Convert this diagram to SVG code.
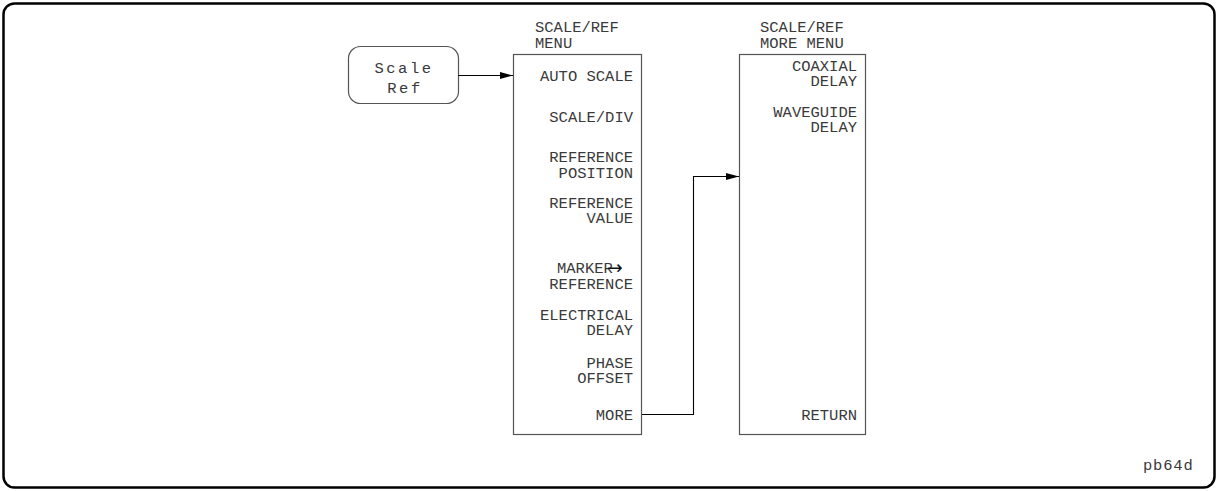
<svg xmlns="http://www.w3.org/2000/svg" width="1218" height="491" viewBox="0 0 1218 491">
<defs>
<marker id="ah" markerWidth="13" markerHeight="8" refX="13" refY="4" orient="auto" markerUnits="userSpaceOnUse">
<path d="M0,0.5 L13,4 L0,7.5 Z" fill="#000"/>
</marker>
<style>
.t{font-family:"Liberation Mono","DejaVu Sans Mono",monospace;font-size:15.5px;fill:#3a3a3a;}
.r{text-anchor:end;}
.box{fill:#fff;stroke:#555;stroke-width:1.2;}
.con{fill:none;stroke:#000;stroke-width:1.1;}
.arr{font-family:"DejaVu Sans",sans-serif;font-size:19px;fill:#111;}
</style>
</defs>
<rect x="0" y="0" width="1218" height="491" fill="#fff"/>
<rect x="3.5" y="3.5" width="1211" height="484" rx="11" ry="11" fill="none" stroke="#000" stroke-width="2.5"/>

<g id="scale-ref-key">
<rect class="box" x="348.5" y="46.5" width="110" height="57" rx="12" ry="12"/>
<text class="t" x="404" y="73" text-anchor="middle" style="letter-spacing:2.5px">Scale</text>
<text class="t" x="405" y="93" text-anchor="middle" style="letter-spacing:2.5px">Ref</text>
</g>

<g id="scale-ref-menu">
<text class="t" x="535" y="32">SCALE/REF</text>
<text class="t" x="535" y="48">MENU</text>
<rect class="box" x="513.5" y="54.5" width="128" height="380"/>
<text class="t r" x="633" y="81">AUTO SCALE</text>
<text class="t r" x="633" y="122">SCALE/DIV</text>
<text class="t r" x="633" y="162">REFERENCE</text>
<text class="t r" x="633" y="178">POSITION</text>
<text class="t r" x="633" y="208">REFERENCE</text>
<text class="t r" x="633" y="223">VALUE</text>
<text class="t" x="557" y="273">MARKER<tspan class="arr" dx="-6" dy="1">→</tspan></text>
<text class="t r" x="633" y="289">REFERENCE</text>
<text class="t r" x="633" y="320">ELECTRICAL</text>
<text class="t r" x="633" y="335">DELAY</text>
<text class="t r" x="633" y="368">PHASE</text>
<text class="t r" x="633" y="383">OFFSET</text>
<text class="t r" x="633" y="420">MORE</text>
</g>

<g id="scale-ref-more-menu">
<text class="t" x="760" y="32">SCALE/REF</text>
<text class="t" x="760" y="48">MORE MENU</text>
<rect class="box" x="739.5" y="54.5" width="126" height="380"/>
<text class="t r" x="857" y="71">COAXIAL</text>
<text class="t r" x="857" y="86">DELAY</text>
<text class="t r" x="857" y="117">WAVEGUIDE</text>
<text class="t r" x="857" y="132">DELAY</text>
<text class="t r" x="857" y="420">RETURN</text>
</g>

<g id="connectors">
<path class="con" d="M458.5,75.5 H513" marker-end="url(#ah)"/>
<path class="con" d="M642,414.5 H693.5 V176.5 H739" marker-end="url(#ah)"/>
</g>

<text class="t" x="1143" y="470" style="letter-spacing:0.8px">pb64d</text>
</svg>
